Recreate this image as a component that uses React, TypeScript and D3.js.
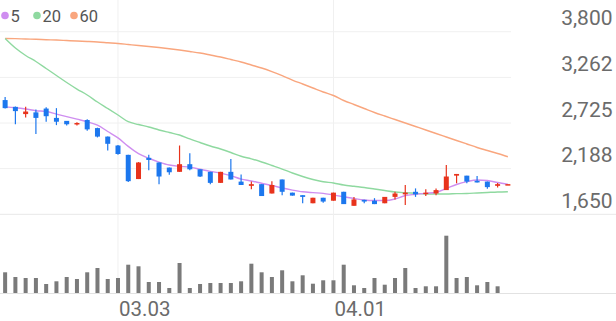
import React from "react";
import * as d3 from "d3";

const tickLabels = ["03.03", "04.01"];
const tickIndex = [11, 32];
const yTicks = [3800, 3262, 2725, 2188, 1650];

const opens = [2995,2915,2830,2850,2895,2785,2750,2710,2760,2665,2565,2460,2350,2065,2315,2260,2200,2150,2240,2180,2150,2020,2150,2035,1985,2005,1895,2060,1905,1875,1780,1845,1810,1915,1750,1820,1810,1780,1855,1885,1915,1890,1895,1935,2105,2105,2045,2035,1985,2000];
const highs = [3030,2920,2915,2885,2910,2900,2750,2735,2770,2670,2565,2465,2350,2265,2350,2260,2200,2460,2370,2180,2150,2150,2300,2120,2035,2005,2040,2060,1905,1875,1845,1845,1905,1915,1855,1820,1840,1855,1915,1995,1955,1945,1955,2230,2125,2105,2100,2035,2020,2005];
const lows = [2895,2710,2790,2595,2740,2700,2695,2695,2635,2555,2400,2350,2030,2065,2170,2005,2115,2150,2170,2090,2005,2020,2060,1995,1945,1865,1895,1875,1870,1780,1780,1785,1810,1770,1750,1780,1770,1780,1825,1760,1855,1865,1875,1935,2015,2015,2025,1950,1965,2000];
const closes = [2900,2865,2860,2785,2805,2740,2710,2725,2650,2565,2480,2360,2040,2260,2290,2095,2145,2240,2180,2095,2020,2150,2060,1995,2005,1865,1995,1915,1870,1855,1845,1800,1905,1770,1825,1800,1770,1855,1895,1905,1885,1905,1935,2095,2125,2035,2025,1970,2005,2005];
const volumes = [20.7,16,15,15,9,11.7,16,14,20.7,25,14,15,28.3,26.7,11,11,5,30,5,9,10,10,10,11.7,29.3,20.7,16,22.7,11.7,17.7,9.3,12.7,12.7,28.3,7.7,5,15,8.3,15,25,5,6.7,6.7,57.3,15,16,7.7,11,6.7,0];
const ma5 = [2915,2905,2890,2870,2860,2830,2800,2770,2740,2700,2625,2550,2450,2365,2310,2265,2230,2215,2205,2180,2155,2135,2105,2065,2042,2015,1990,1960,1935,1915,1905,1897,1877,1857,1836,1818,1812,1812,1830,1871,1885,1897,1909,1954,2001,2034,2054,2048,2024,2003];
const ma20 = [3720,3608,3520,3449,3367,3284,3202,3125,3055,2972,2896,2819,2740,2707,2678,2643,2613,2584,2537,2495,2454,2419,2378,2333,2303,2266,2225,2183,2136,2095,2060,2034,2019,1995,1980,1966,1948,1930,1913,1904,1897,1889,1889,1889,1893,1895,1901,1907,1913,1916];
const ma60 = [3720,3718,3714,3711,3706,3702,3696,3690,3685,3679,3670,3661,3649,3637,3626,3614,3600,3584,3567,3549,3526,3502,3473,3443,3408,3373,3331,3284,3231,3184,3137,3090,3049,2990,2943,2896,2849,2807,2766,2725,2684,2643,2601,2560,2519,2478,2437,2401,2366,2328];

const W = 616, H = 321;
const UP = "#e8331c", DOWN = "#1c77ee";

export default function App() {
  const idx = d3.range(closes.length);
  const x = d3.scaleBand<number>().domain(idx).range([0, 513]).padding(0);
  const cx = (i: number) => (x(i) as number) + x.bandwidth() / 2;
  const y = d3.scaleLinear().domain([1650, 3800]).range([214.3, 31.7]);
  const yv = d3.scaleLinear().domain([0, d3.max(volumes) as number]).range([293, 235.7]);
  const line = (arr: number[]) =>
    d3.line<number>().x((_, i) => cx(i)).y((d) => y(d)).curve(d3.curveMonotoneX)(arr) as string;
  const font = "Roboto, 'Noto Sans', sans-serif";
  const legend = [
    { label: "5", color: "#cf8ef0", cx: 5 },
    { label: "20", color: "#8fd9a0", cx: 37 },
    { label: "60", color: "#f9a67e", cx: 74 },
  ];
  return (
    <svg width={W} height={H} style={{ position: "fixed", left: 0, top: 0, background: "#fff" }} fontFamily={font}>
      <rect width={W} height={H} fill="#fff" />
      {yTicks.slice(0, 4).map((t) => (
        <line key={t} x1={0} x2={511} y1={y(t)} y2={y(t)} stroke="#f0f0f0" strokeWidth={1} />
      ))}
      <line x1={0} x2={W} y1={y(1650)} y2={y(1650)} stroke="#e8e8e8" strokeWidth={1} />
      {tickIndex.map((ti) => (
        <line key={ti} x1={cx(ti)} x2={cx(ti)} y1={0} y2={293} stroke="#f0f0f0" strokeWidth={1} />
      ))}
      <line x1={0} x2={W} y1={293.5} y2={293.5} stroke="#e2e2e2" strokeWidth={1} />
      {yTicks.map((t) => (
        <text key={t} x={612.5} y={y(t) - 6.5} textAnchor="end" fontSize={21} fill="#6b6b6b">
          {d3.format(",")(t)}
        </text>
      ))}
      {tickIndex.map((ti, k) => (
        <text key={ti} x={cx(ti) + 1} y={316} fontSize={20.5} fill="#6b6b6b">
          {tickLabels[k]}
        </text>
      ))}
      {volumes.map((v, i) => (
        <rect key={i} x={cx(i) - 2} width={4} y={yv(v)} height={293 - yv(v)} fill="#7a7a7a" />
      ))}
      <path d={line(ma60)} fill="none" stroke="#f9a67e" strokeWidth={1.4} />
      <path d={line(ma20)} fill="none" stroke="#8fd9a0" strokeWidth={1.4} />
      <path d={line(ma5)} fill="none" stroke="#cf8ef0" strokeWidth={1.4} />
      {idx.map((i) => {
        const up = closes[i] >= opens[i];
        const c = up ? UP : DOWN;
        const top = y(Math.max(opens[i], closes[i]));
        const bot = y(Math.min(opens[i], closes[i]));
        return (
          <g key={i}>
            <line x1={cx(i)} x2={cx(i)} y1={y(highs[i])} y2={y(lows[i])} stroke={c} strokeWidth={1.2} />
            <rect x={cx(i) - 2.5} width={5} y={top} height={Math.max(1.5, bot - top)} fill={c} />
          </g>
        );
      })}
      {legend.map((l) => (
        <g key={l.label}>
          <circle cx={l.cx} cy={15.5} r={3.8} fill={l.color} />
          <text x={l.cx + 5.5} y={21.5} fontSize={16.5} fill="#555">{l.label}</text>
        </g>
      ))}
    </svg>
  );
}
